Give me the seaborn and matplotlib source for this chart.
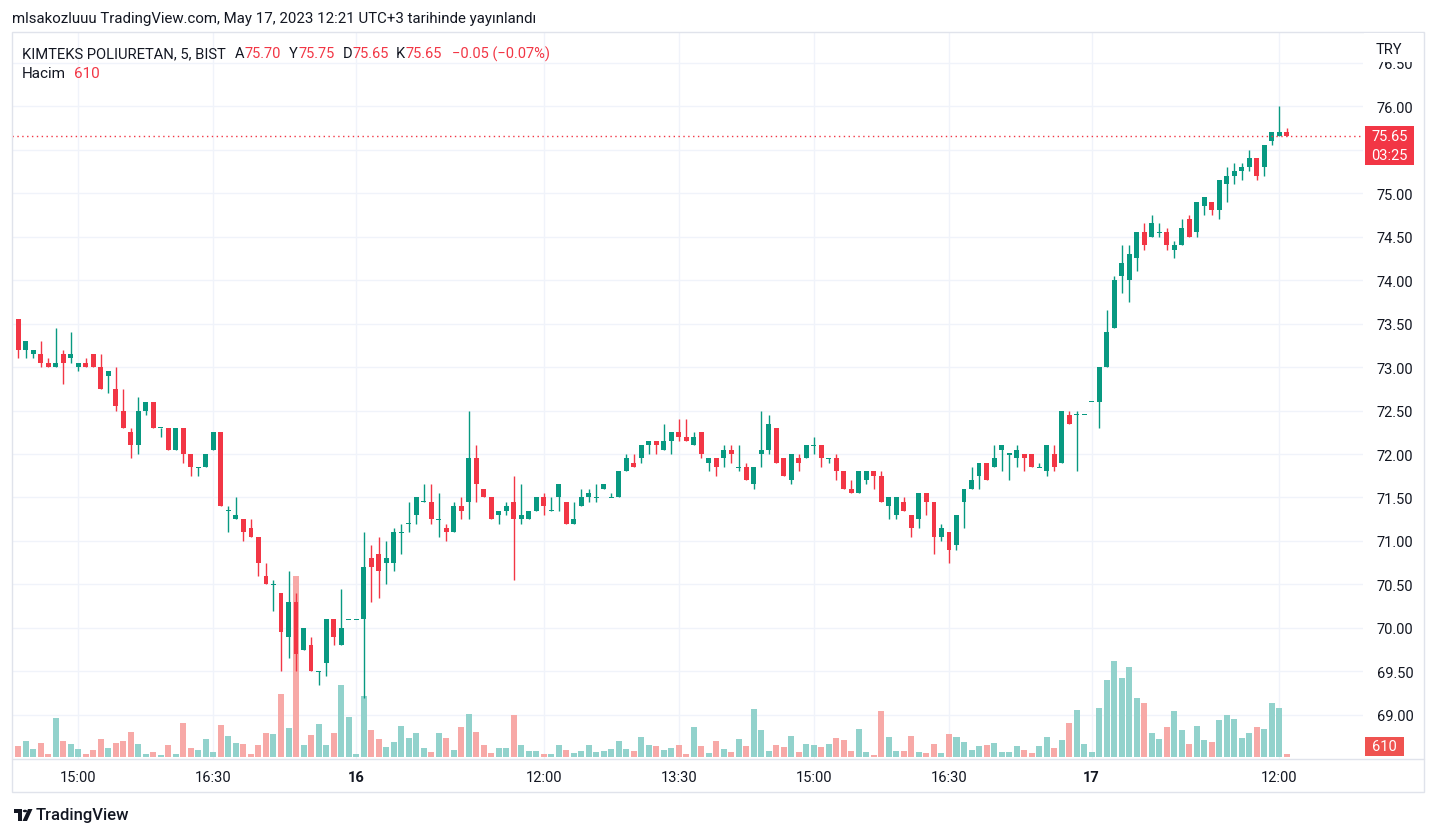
import numpy as np
import pandas as pd
import matplotlib
matplotlib.use("Agg")
import matplotlib.pyplot as plt
import matplotlib.transforms as mtransforms
from matplotlib.patches import Rectangle, Polygon, Circle
import seaborn as sns

W, H = 1437, 837

# KIMTEKS POLIURETAN, 5 min bars (15 May 14:20 .. 17 May 12:20)
opens = [
    73.55, 73.20, 73.15, 73.15, 73.05, 73.00, 73.15, 73.10, 73.00, 73.05,
    73.15, 73.00, 72.90, 72.75, 72.50, 72.25, 72.10, 72.50, 72.60, 72.30,
    72.30, 72.05, 72.30, 72.00, 71.85, 71.85, 72.05, 72.25, 71.35, 71.25,
    71.25, 71.15, 71.05, 70.60, 70.50, 70.40, 69.90, 70.30, 69.75, 69.80,
    69.50, 69.60, 70.10, 69.80, 70.10, 70.10, 70.10, 70.80, 70.85, 70.75,
    70.75, 71.10, 71.20, 71.30, 71.45, 71.45, 71.25, 71.15, 71.10, 71.40,
    71.45, 71.95, 71.60, 71.50, 71.30, 71.35, 71.45, 71.25, 71.25, 71.35,
    71.50, 71.35, 71.50, 71.45, 71.20, 71.40, 71.50, 71.50, 71.60, 71.50,
    71.50, 71.80, 71.90, 71.95, 72.10, 72.15, 72.05, 72.15, 72.25, 72.20,
    72.10, 72.25, 71.90, 71.95, 71.95, 72.05, 71.85, 71.85, 71.65, 72.00,
    72.05, 72.30, 71.95, 71.70, 71.95, 71.95, 72.10, 72.10, 71.95, 71.95,
    71.80, 71.60, 71.55, 71.70, 71.80, 71.75, 71.40, 71.30, 71.45, 71.30,
    71.25, 71.55, 71.45, 71.05, 71.10, 70.95, 71.45, 71.60, 71.75, 71.90,
    71.85, 72.05, 72.00, 71.95, 72.00, 72.00, 71.85, 71.80, 72.00, 71.90,
    72.45, 72.45, 72.45, 72.60, 72.60, 73.00, 73.45, 74.05, 74.00, 74.25,
    74.55, 74.50, 74.55, 74.55, 74.35, 74.40, 74.70, 74.55, 74.85, 74.90,
    74.80, 75.10, 75.20, 75.25, 75.30, 75.40, 75.30, 75.60, 75.65, 75.70,
]
highs = [
    73.55, 73.30, 73.20, 73.30, 73.10, 73.45, 73.20, 73.40, 73.05, 73.10,
    73.15, 73.15, 72.95, 73.00, 72.75, 72.30, 72.65, 72.60, 72.60, 72.30,
    72.30, 72.30, 72.30, 72.00, 71.85, 72.00, 72.25, 72.25, 71.40, 71.50,
    71.25, 71.25, 71.05, 70.75, 70.55, 70.40, 70.65, 70.40, 70.00, 69.90,
    69.50, 70.10, 70.10, 70.45, 70.10, 70.10, 71.10, 70.95, 71.05, 71.00,
    71.15, 71.20, 71.45, 71.50, 71.65, 71.65, 71.55, 71.20, 71.45, 71.50,
    72.50, 72.10, 71.60, 71.50, 71.35, 71.45, 71.75, 71.65, 71.35, 71.50,
    71.55, 71.50, 71.65, 71.45, 71.45, 71.60, 71.60, 71.65, 71.65, 71.55,
    71.80, 72.00, 72.00, 72.10, 72.15, 72.15, 72.35, 72.25, 72.40, 72.40,
    72.25, 72.25, 71.95, 71.95, 72.10, 72.10, 72.10, 71.90, 71.85, 72.50,
    72.45, 72.30, 71.95, 72.00, 72.00, 72.10, 72.20, 72.10, 71.95, 72.00,
    71.80, 71.70, 71.80, 71.80, 71.80, 71.80, 71.50, 71.50, 71.50, 71.30,
    71.55, 71.55, 71.45, 71.20, 71.10, 71.30, 71.60, 71.85, 71.90, 71.90,
    72.10, 72.10, 72.00, 72.10, 72.00, 72.00, 71.90, 72.10, 72.10, 72.50,
    72.50, 72.50, 72.45, 72.60, 73.00, 73.65, 74.05, 74.40, 74.40, 74.55,
    74.65, 74.75, 74.65, 74.60, 74.45, 74.70, 74.75, 74.90, 74.95, 74.90,
    75.15, 75.30, 75.35, 75.35, 75.50, 75.40, 75.55, 75.70, 76.00, 75.75,
]
lows = [
    73.10, 73.10, 73.10, 73.00, 73.00, 73.00, 72.80, 73.05, 72.95, 73.00,
    73.00, 72.75, 72.70, 72.50, 72.30, 71.95, 72.00, 72.45, 72.30, 72.20,
    72.05, 72.05, 71.90, 71.75, 71.75, 71.85, 72.05, 71.40, 71.10, 71.25,
    71.00, 71.05, 70.60, 70.50, 70.20, 69.50, 69.65, 69.50, 69.75, 69.50,
    69.35, 69.45, 69.80, 69.80, 70.10, 70.10, 69.20, 70.30, 70.35, 70.50,
    70.65, 70.85, 71.10, 71.20, 71.45, 71.20, 71.05, 71.00, 71.10, 71.25,
    71.25, 71.45, 71.50, 71.25, 71.20, 71.30, 70.55, 71.20, 71.25, 71.35,
    71.30, 71.35, 71.35, 71.20, 71.20, 71.40, 71.45, 71.45, 71.60, 71.50,
    71.50, 71.80, 71.85, 71.90, 72.00, 72.00, 72.05, 72.00, 72.15, 72.15,
    72.10, 71.95, 71.80, 71.75, 71.85, 71.90, 71.80, 71.70, 71.60, 71.85,
    72.00, 71.90, 71.75, 71.65, 71.80, 71.95, 72.00, 71.85, 71.90, 71.70,
    71.60, 71.55, 71.55, 71.65, 71.60, 71.45, 71.25, 71.25, 71.35, 71.05,
    71.15, 71.30, 70.85, 71.00, 70.75, 70.90, 71.15, 71.60, 71.60, 71.70,
    71.85, 71.80, 71.70, 71.85, 71.80, 71.85, 71.85, 71.75, 71.80, 71.90,
    72.35, 71.80, 72.45, 72.60, 72.30, 73.00, 73.45, 73.85, 73.75, 74.10,
    74.35, 74.50, 74.50, 74.35, 74.25, 74.40, 74.50, 74.50, 74.75, 74.75,
    74.70, 74.90, 75.10, 75.15, 75.25, 75.15, 75.20, 75.55, 75.65, 75.65,
]
closes = [
    73.20, 73.30, 73.20, 73.05, 73.00, 73.05, 73.05, 73.15, 73.05, 73.00,
    73.00, 72.75, 72.95, 72.55, 72.30, 72.10, 72.50, 72.60, 72.30, 72.30,
    72.05, 72.30, 72.00, 71.85, 71.85, 72.00, 72.25, 71.40, 71.35, 71.30,
    71.10, 71.05, 70.75, 70.50, 70.50, 69.95, 70.30, 69.70, 70.00, 69.50,
    69.50, 70.10, 69.90, 70.00, 70.10, 70.10, 70.70, 70.70, 70.65, 70.80,
    71.10, 71.10, 71.20, 71.50, 71.45, 71.25, 71.25, 71.10, 71.40, 71.35,
    71.95, 71.65, 71.50, 71.25, 71.35, 71.40, 71.25, 71.30, 71.35, 71.50,
    71.40, 71.35, 71.65, 71.20, 71.25, 71.50, 71.55, 71.50, 71.65, 71.50,
    71.80, 71.95, 71.85, 72.10, 72.15, 72.10, 72.15, 72.25, 72.20, 72.15,
    72.20, 72.00, 71.95, 71.85, 72.05, 72.00, 71.85, 71.70, 71.85, 72.05,
    72.35, 71.90, 71.75, 72.00, 71.90, 72.10, 72.10, 71.95, 71.95, 71.80,
    71.60, 71.55, 71.80, 71.80, 71.75, 71.45, 71.50, 71.50, 71.35, 71.15,
    71.55, 71.45, 71.05, 71.15, 70.90, 71.30, 71.60, 71.70, 71.90, 71.70,
    71.95, 72.10, 72.00, 72.05, 71.95, 71.85, 71.85, 72.10, 71.85, 72.50,
    72.35, 72.45, 72.45, 72.60, 73.00, 73.40, 74.00, 74.20, 74.30, 74.55,
    74.40, 74.65, 74.55, 74.40, 74.40, 74.60, 74.50, 74.90, 74.95, 74.80,
    75.15, 75.20, 75.25, 75.30, 75.40, 75.20, 75.55, 75.70, 75.70, 75.65,
]
volumes = [
    2240, 3260, 1630, 2860, 610, 7960, 3260, 2650, 1630, 610,
    1430, 3670, 1840, 2860, 3260, 5100, 2650, 610, 1020, 410,
    2450, 610, 6940, 1840, 1430, 3670, 1020, 6530, 4280, 2860,
    2650, 610, 2450, 4900, 4690, 12850, 5920, 36920, 2450, 4490,
    6730, 2450, 4900, 14690, 8160, 610, 12440, 5510, 3670, 2040,
    3060, 6320, 3880, 4900, 1840, 1020, 4900, 3880, 1430, 6120,
    8770, 5100, 2450, 820, 1840, 1840, 8570, 2450, 1220, 1220,
    610, 610, 2450, 1430, 820, 1220, 2450, 1020, 1220, 1630,
    3260, 1630, 1220, 4080, 2450, 2240, 1430, 1840, 2450, 610,
    6120, 2240, 820, 3260, 1630, 1020, 3670, 2240, 9790, 5510,
    1220, 2450, 2040, 4280, 1020, 2650, 2450, 2040, 2650, 3880,
    3470, 1220, 5710, 1020, 410, 9380, 4080, 1220, 1220, 4280,
    1020, 820, 2650, 820, 4690, 4080, 3060, 1430, 2240, 2450,
    2860, 1020, 1020, 2240, 1430, 820, 2240, 4080, 1840, 3470,
    6940, 9590, 2650, 1020, 10000, 15710, 19580, 16120, 18360, 12040,
    11020, 4900, 3670, 6120, 9380, 5510, 2650, 6320, 3470, 3060,
    7550, 8570, 7750, 3880, 4900, 6120, 5710, 11020, 10000, 610,
]

# time scale labels and the bar each one sits on
time_labels = ["15:00", "16:30", "16", "12:00", "13:30", "15:00", "16:30", "17", "12:00"]
time_bars = [8, 26, 45, 70, 88, 106, 124, 143, 168]
day_labels = ["16", "17"]
price_ticks = [69.0, 69.5, 70.0, 70.5, 71.0, 71.5, 72.0, 72.5, 73.0, 73.5,
               74.0, 74.5, 75.0, 75.5, 76.0, 76.5]

UP, DN = "#089981", "#F23645"
VOL_UP, VOL_DN = "#92D2CC", "#F7A9A7"
TEXT = "#131722"
GRID = "#F0F3FA"
BORDER = "#E0E3EB"

sns.set_theme(style="white")
plt.rcParams["font.family"] = ["Roboto", "DejaVu Sans"]


def fpos(x, y):
    return (x / W, 1 - y / H)


def ftext(x, y, s, **kw):
    kw.setdefault("va", "center")
    kw.setdefault("color", TEXT)
    kw.setdefault("fontsize", 10.5)
    fig.text(x / W, 1 - y / H, s, **kw)


df = pd.DataFrame(dict(o=opens, h=highs, l=lows, c=closes, v=volumes))
df["bar"] = np.arange(len(df))
df["side"] = np.where(df.c >= df.o, "up", "down")

fig = plt.figure(figsize=(W / 100, H / 100), dpi=100, facecolor="white")
rect = [12 / W, 1 - 760 / H, 1351 / W, 727 / H]
ax_vol = fig.add_axes(rect, zorder=0)
ax = fig.add_axes(rect, zorder=1)
ax.patch.set_visible(False)

xlim = (-0.84, 179.16)

# volume pane
sns.barplot(data=df, x="bar", y="v", hue="side",
            palette={"up": VOL_UP, "down": VOL_DN},
            native_scale=True, dodge=False, legend=False, errorbar=None,
            saturation=1, width=0.8, linewidth=0, ax=ax_vol)
vmax = df.v.max()
ax_vol.set_ylim(-0.0127 * vmax, 4.01 * vmax)
ax_vol.set_xlim(*xlim)
ax_vol.set_xlabel("")
ax_vol.set_ylabel("")
ax_vol.set_xticks([])
ax_vol.set_yticks([])
for s in ax_vol.spines.values():
    s.set_visible(False)

# grid lines below the volume bars
for b in time_bars:
    ax_vol.axvline(b, color=GRID, lw=1, zorder=0)
blend = mtransforms.blended_transform_factory(ax_vol.transAxes, ax.transData)
for p in price_ticks:
    ax_vol.plot([0, 1], [p, p], color=GRID, lw=1, zorder=0, transform=blend)

# candles
colors = np.where(df.side == "up", UP, DN)
ax.vlines(df.bar, df.l, df.h, colors=colors, lw=1)
body = (df.c - df.o).abs()
body_h = np.maximum(body, 0.012)
body_lo = np.minimum(df.o, df.c) - (body_h - body) / 2
ax.bar(df.bar, body_h, bottom=body_lo, width=0.66, color=colors, linewidth=0)

ax.axhline(closes[-1], color=DN, lw=1, ls=(0, (1, 2.5)))

ax.set_xlim(*xlim)
ax.set_ylim(68.494, 76.851)
for s in ax.spines.values():
    s.set_visible(False)

# price scale (the 75.50 label sits under the last-price marker)
ax.yaxis.tick_right()
ax.set_yticks(price_ticks)
ax.set_yticklabels(["" if abs(p - closes[-1]) < 0.25 else f"{p:.2f}" for p in price_ticks])
ax.tick_params(axis="y", length=0, pad=10, labelsize=10.5, labelcolor=TEXT)

ax.set_xticks(time_bars)
ax.set_xticklabels(time_labels)
ax.tick_params(axis="x", length=0, pad=8, labelsize=10.5, labelcolor=TEXT)
for t in ax.get_xticklabels():
    if t.get_text() in day_labels:
        t.set_fontweight("bold")

# frame of the chart widget
fig.add_artist(Rectangle(fpos(12, 793), 1412 / W, 760 / H, transform=fig.transFigure,
                         fill=False, edgecolor=BORDER, lw=1, zorder=3))
fig.add_artist(plt.Line2D([12 / W, 1424 / W], [1 - 760 / H] * 2, transform=fig.transFigure,
                          color=BORDER, lw=1, zorder=3))

# currency label covering the top of the price scale
fig.add_artist(Rectangle(fpos(1364, 63), 59 / W, 29 / H, transform=fig.transFigure,
                         facecolor="white", edgecolor="none", zorder=4))
ftext(1389, 50, "TRY", ha="center", fontsize=10.5, zorder=5)

# last price marker
fig.add_artist(Rectangle(fpos(1365, 166), 49 / W, 39 / H, transform=fig.transFigure,
                         facecolor=DN, edgecolor="none", zorder=5))
ftext(1389.5, 137, f"{closes[-1]:.2f}", ha="center", color="white", fontsize=10.5, zorder=6)
ftext(1389.5, 156, "03:25", ha="center", color="white", fontsize=10.5, zorder=6)

# last volume marker
fig.add_artist(Rectangle(fpos(1365, 757), 39 / W, 19 / H, transform=fig.transFigure,
                         facecolor="#EF5350", edgecolor="none", zorder=5))
ftext(1384.5, 747.5, f"{volumes[-1]}", ha="center", color="white", fontsize=10.5, zorder=6)

# header and legend
ftext(12, 19, "mlsakozluuu TradingView.com, May 17, 2023 12:21 UTC+3 tarihinde yayınlandı",
      fontsize=10.8)
ftext(22, 54, "KIMTEKS POLIURETAN, 5, BIST", fontsize=10.6)
legend_parts = [(235, "A", f"{opens[-1]:.2f}"), (289, "Y", f"{highs[-1]:.2f}"),
                (343, "D", f"{lows[-1]:.2f}"), (396, "K", f"{closes[-1]:.2f}")]
for x0, key, val in legend_parts:
    ftext(x0, 54, key)
    ftext(x0 + 9.5, 54, val, color=DN)
ftext(452, 54, "\u22120.05 (\u22120.07%)", color=DN)
ftext(22, 74, "Hacim", fontsize=11)
ftext(74, 74, f"{volumes[-1]}", color=DN, fontsize=11)

# footer logo
fig.add_artist(Rectangle(fpos(14, 814), 8 / W, 4 / H, transform=fig.transFigure,
                         facecolor=TEXT, edgecolor="none"))
fig.add_artist(Rectangle(fpos(18, 822), 4 / W, 12 / H, transform=fig.transFigure,
                         facecolor=TEXT, edgecolor="none"))
fig.add_artist(Circle(fpos(25, 812), 2.2 / W, transform=fig.transFigure,
                      facecolor=TEXT, edgecolor="none"))
fig.add_artist(Polygon([fpos(28, 810), fpos(32.5, 810), fpos(27, 822), fpos(22.5, 822)],
                       closed=True, transform=fig.transFigure, facecolor=TEXT,
                       edgecolor="none"))
ftext(36, 816, "TradingView", fontsize=12, fontweight="medium")

fig.savefig("out.png", dpi=100, facecolor="white")
